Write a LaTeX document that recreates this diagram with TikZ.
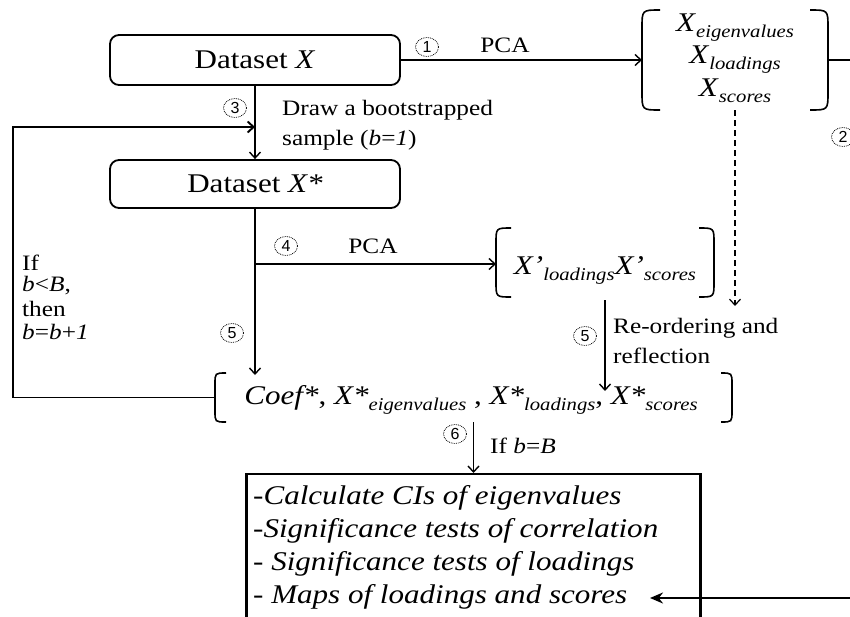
\documentclass[tikz,border=0pt]{standalone}
\usepackage{fontspec}
\usepackage{graphicx}
\setmainfont{Liberation Serif}[FakeStretch=1.15, ItalicFont=Liberation Serif Italic, BoldFont=Liberation Serif Bold]
\newfontfamily\cnfont{Liberation Sans}
\usetikzlibrary{arrows.meta,shapes.geometric}
\newcommand\sbx[1]{\raisebox{-6pt}{\fontsize{18}{18}\selectfont\itshape #1}}
\newcommand\drawbrk[2]{%
  \draw[brk] ([xshift=#2]#1.north west) .. controls (#1.north west) .. ([yshift=-#2]#1.north west) -- ([yshift=#2]#1.south west) .. controls (#1.south west) .. ([xshift=#2]#1.south west);
  \draw[brk] ([xshift=-#2]#1.north east) .. controls (#1.north east) .. ([yshift=-#2]#1.north east) -- ([yshift=#2]#1.south east) .. controls (#1.south east) .. ([xshift=-#2]#1.south east);}
\begin{document}
\begin{tikzpicture}[x=1pt,y=-1pt,
  rbox/.style={draw, line width=1.8pt, rounded corners=9pt, minimum width=290pt, minimum height=50pt, inner sep=0pt, font=\fontsize{27}{32}\selectfont},
  big/.style={font=\fontsize{27}{32}\selectfont, inner sep=0pt},
  mid/.style={font=\fontsize{22}{26}\selectfont, inner sep=0pt},
  framebox/.style={inner sep=0pt, outer sep=0pt},
  cnum/.style={ellipse, draw, densely dotted, line width=0.8pt, minimum width=23pt, minimum height=19pt, inner sep=0pt, font=\cnfont\fontsize{16}{16}\selectfont},
  arr/.style={line width=1.4pt, -{Straight Barb[length=6pt,width=11pt]}},
  brk/.style={line width=1.6pt}]
\useasboundingbox (0,0) rectangle (850,616);
\clip (0,0) rectangle (850,616);

% main boxes
\node[rbox] (A) at (255,60) {Dataset \textit{X}};
\node[rbox, minimum height=48pt] (B) at (255,184) {Dataset \textit{X*}};

% PCA result group
\node[framebox, minimum width=186pt, minimum height=100pt] (P) at (735,60) {};
\drawbrk{P}{18}
\node[big] (pe) at (735,28) {\textit{X}\sbx{eigenvalues}};
\node[big] (pl) at (735,60) {\textit{X}\sbx{loadings}};
\node[big] (ps) at (735,91) {\textit{X}\sbx{scores}};

% bootstrap PCA group
\node[framebox, minimum width=218pt, minimum height=69pt] (Q) at (605,262.5) {};
\drawbrk{Q}{15}
\node[big] (qt) at (605,270) {\textit{X’}\sbx{loadings}\textit{X’}\sbx{scores}};

% coefficient group
\node[framebox, minimum width=517pt, minimum height=49pt] (R) at (473.5,397.5) {};
\drawbrk{R}{11}
\node[big] (rt) at (471,400) {\textit{Coef*}, \textit{X*}\sbx{eigenvalues} , \textit{X*}\sbx{loadings}, \textit{X*}\sbx{scores}};

% result box
\node[draw, line width=2.2pt, minimum width=454pt, minimum height=180pt, anchor=north, inner sep=0pt] (S) at (473.5,473) {};
\node[big, anchor=west] (s1) at (253,498) {\textit{-Calculate CIs of eigenvalues}};
\node[big, anchor=west] (s2) at (253,531) {\textit{-Significance tests of correlation}};
\node[big, anchor=west] (s3) at (253,564) {\textit{- Significance tests of loadings}};
\node[big, anchor=west] (s4) at (253,597) {\textit{- Maps of loadings and scores}};

% labels
\node[mid] (pca1) at (505,45) {PCA};
\node[mid] (pca2) at (373,246) {PCA};
\node[mid, anchor=west] (dr1) at (282,110) {Draw a bootstrapped};
\node[mid, anchor=west] (dr2) at (282,140) {sample (\textit{b}=\textit{1})};
\node[mid, anchor=west] (re1) at (613,328) {Re-ordering and};
\node[mid, anchor=west] (re2) at (613,356) {reflection};
\node[mid, anchor=west] (if1) at (22,263) {If};
\node[mid, anchor=west] (if2) at (22,286) {\textit{b}<\textit{B},};
\node[mid, anchor=west] (if3) at (22,309) {then};
\node[mid, anchor=west] (if4) at (22,332) {\textit{b}=\textit{b}+\textit{1}};
\node[mid, anchor=west] (ifb) at (490,446) {If \textit{b}=\textit{B}};

% circled step numbers
\node[cnum] (c1) at (427,47) {1};
\node[cnum] (c2) at (843,137) {2};
\node[cnum] (c3) at (235,108) {3};
\node[cnum] (c4) at (286,246) {4};
\node[cnum] (c5a) at (232,333) {5};
\node[cnum] (c5b) at (585,336) {5};
\node[cnum] (c6) at (455,434) {6};

% connectors
\coordinate (rt1) at (875,60);
\coordinate (rb1) at (875,598);
\coordinate (tipS) at (650,598);
\coordinate (dashend) at (735,306);
\coordinate (fbl) at (13,397.5);
\coordinate (fbt) at (13,127);
\coordinate (c4p) at (255,264);

\draw[arr] (A.east) -- (P.west);
\draw[line width=1.5pt] (P.east) -- (rt1) -- (rb1);
\draw[line width=2.6pt, -{Stealth[length=13pt,width=11pt]}] (rb1) -- (tipS);
\draw[arr, line width=1.2pt, dash pattern=on 6pt off 4pt] (P.south) -- (dashend);
\draw[arr] (A.south) -- (B.north);
\draw[arr, line width=1.9pt] (R.west) -- (fbl) -- (fbt) -- (fbt -| A.south);
\draw[arr] (B.south) -- ([yshift=-2pt]B.south |- R.north);
\draw[arr] (c4p) -- (c4p -| Q.west);
\draw[arr] ([yshift=-3pt]Q.south) -- ([yshift=-18pt]R.north -| Q.south);
\draw[arr] (R.south) -- (S.north);
\end{tikzpicture}
\end{document}
